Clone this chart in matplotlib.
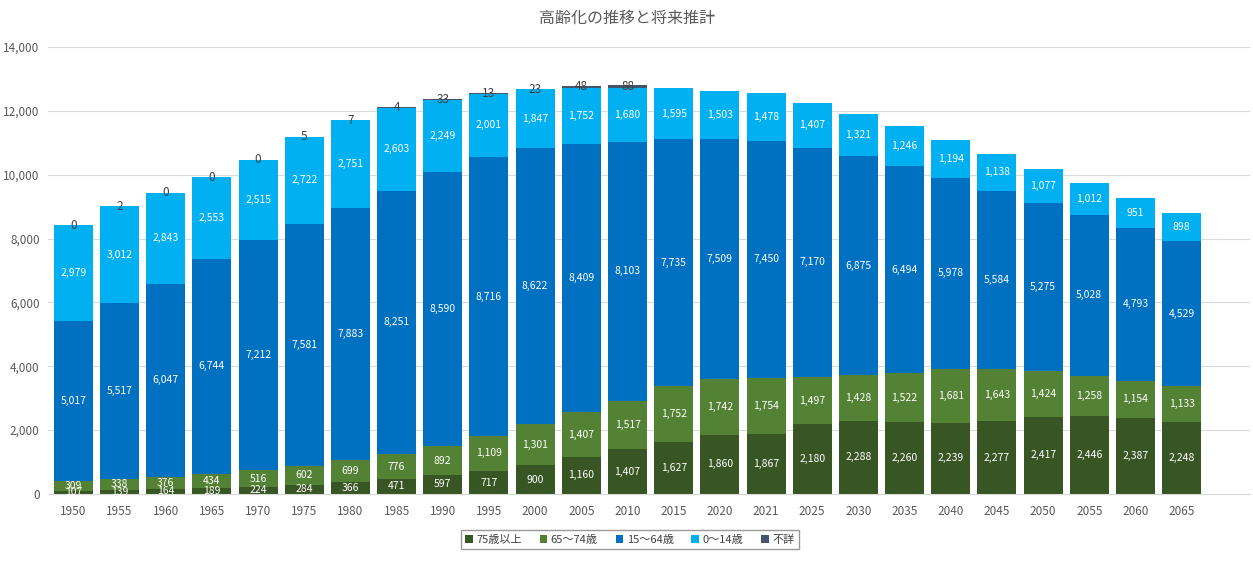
import matplotlib
matplotlib.use('Agg')
import matplotlib.pyplot as plt
import numpy as np

plt.rcParams['font.family'] = ['Noto Sans CJK JP', 'DejaVu Sans']

years = ['1950', '1955', '1960', '1965', '1970', '1975', '1980', '1985', '1990', '1995',
         '2000', '2005', '2010', '2015', '2020', '2021', '2025', '2030', '2035', '2040',
         '2045', '2050', '2055', '2060', '2065']
age75 = [107, 139, 164, 189, 224, 284, 366, 471, 597, 717, 900, 1160, 1407, 1627, 1860,
         1867, 2180, 2288, 2260, 2239, 2277, 2417, 2446, 2387, 2248]
age65 = [309, 338, 376, 434, 516, 602, 699, 776, 892, 1109, 1301, 1407, 1517, 1752, 1742,
         1754, 1497, 1428, 1522, 1681, 1643, 1424, 1258, 1154, 1133]
age15 = [5017, 5517, 6047, 6744, 7212, 7581, 7883, 8251, 8590, 8716, 8622, 8409, 8103, 7735,
         7509, 7450, 7170, 6875, 6494, 5978, 5584, 5275, 5028, 4793, 4529]
age0 = [2979, 3012, 2843, 2553, 2515, 2722, 2751, 2603, 2249, 2001, 1847, 1752, 1680, 1595,
        1503, 1478, 1407, 1321, 1246, 1194, 1138, 1077, 1012, 951, 898]
unknown = [0, 2, 0, 0, 0, 5, 7, 4, 33, 13, 23, 48, 88]

series = [
    ('75歳以上', age75, '#375623'),
    ('65〜74歳', age65, '#548235'),
    ('15〜64歳', age15, '#0070C0'),
    ('0〜14歳', age0, '#00B0F0'),
]

fig = plt.figure(figsize=(12.53, 5.62), dpi=100)
ax = fig.add_axes([0.0383, 0.121, 0.9593, 0.7954])

x = np.arange(len(years))
w = 0.845
bottom = np.zeros(len(years))
for name, vals, col in series:
    vals = np.array(vals, dtype=float)
    bars = ax.bar(x, vals, w, bottom=bottom, color=col, label=name, zorder=2)
    ax.bar_label(bars, labels=['{:,}'.format(int(v)) for v in vals], label_type='center',
                 color='white', fontsize=7.5)
    bottom += vals

xu = x[:len(unknown)]
ax.bar(xu, unknown, w, bottom=bottom[:len(unknown)], color='#44546A', label='不詳', zorder=2)
for xi, b, v in zip(xu, bottom[:len(unknown)], unknown):
    ax.text(xi, b + v / 2, '{:,}'.format(v), ha='center', va='center', color='#404040',
            fontsize=8.5, zorder=3)

ax.set_xlim(-0.55, len(years) - 1 + 1.48)
ax.set_ylim(0, 14000)
ax.set_yticks(np.arange(0, 14001, 2000))
ax.yaxis.set_major_formatter(matplotlib.ticker.FuncFormatter(lambda v, p: '{:,}'.format(int(v))))
ax.set_xticks(x)
ax.set_xticklabels(years)
ax.tick_params(length=0, colors='#595959', labelsize=8.5)
ax.tick_params(axis='x', pad=8)
ax.tick_params(axis='y', pad=6)
ax.grid(axis='y', color='#D9D9D9', linewidth=0.8, zorder=0)
for s in ['top', 'right', 'left']:
    ax.spines[s].set_visible(False)
ax.spines['bottom'].set_color('#D9D9D9')

fig.suptitle('高齢化の推移と将来推計', y=0.982, fontsize=11.5, color='#595959')

leg = ax.legend(loc='upper center', bbox_to_anchor=(0.484, -0.068), ncol=5, frameon=True,
                fontsize=8, handlelength=0.7, handleheight=0.7, handletextpad=0.3,
                columnspacing=1.6, fancybox=False, edgecolor='#808080',
                borderpad=0.4)
for t in leg.get_texts():
    t.set_color('#404040')

fig.savefig('out.png', dpi=100)
